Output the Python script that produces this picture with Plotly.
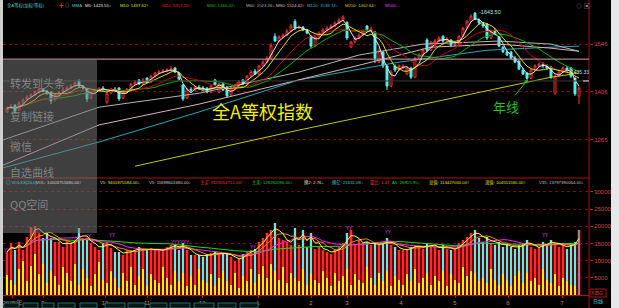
import plotly.graph_objects as go
import pandas as pd

W, H = 619, 308
CJK = "Noto Sans CJK SC"
SANS = "Liberation Sans, Noto Sans CJK SC"

# ---------------- data ----------------
opens = [1347,1358,1367,1353,1373,1382,1391,1397,1405,1414,
         1408,1405,1382,1397,1405,1411,1417,1423,1438,1423,
         1414,1388,1405,1411,1417,1376,1402,1414,1417,1388,
         1408,1414,1429,1441,1429,1446,1435,1452,1461,1464,
         1467,1470,1476,1461,1426,1388,1414,1411,1420,1417,
         1417,1405,1441,1405,1429,1420,1397,1417,1426,1441,
         1429,1452,1467,1458,1482,1493,1505,1569,1555,1567,
         1572,1584,1613,1593,1596,1587,1569,1540,1567,1578,
         1587,1593,1599,1608,1616,1610,1537,1552,1564,1572,
         1599,1587,1581,1493,1523,1482,1423,1482,1470,1476,
         1458,1476,1449,1505,1514,1558,1528,1546,1555,1569,
         1555,1558,1543,1546,1569,1593,1613,1637,1616,1605,
         1605,1564,1587,1567,1537,1523,1523,1505,1496,1470,
         1461,1446,1470,1482,1487,1482,1479,1402,1452,1464,
         1476,1476,1446,1394]
highs = [1364,1370,1370,1379,1388,1397,1402,1411,1423,1417,
         1411,1408,1400,1408,1417,1423,1429,1438,1443,1426,
         1417,1408,1414,1420,1423,1408,1417,1420,1420,1411,
         1417,1432,1441,1443,1446,1449,1455,1464,1470,1473,
         1476,1482,1479,1464,1429,1417,1420,1423,1426,1423,
         1420,1426,1443,1432,1432,1423,1423,1429,1441,1443,
         1455,1470,1473,1484,1499,1511,1549,1578,1572,1578,
         1590,1605,1619,1602,1599,1590,1572,1569,1584,1593,
         1599,1605,1613,1622,1631,1613,1555,1569,1578,1590,
         1602,1596,1584,1534,1526,1484,1470,1487,1487,1487,
         1479,1479,1508,1520,1534,1564,1555,1561,1569,1572,
         1567,1561,1552,1572,1596,1616,1634,1640,1622,1610,
         1608,1590,1593,1569,1540,1528,1526,1511,1499,1476,
         1464,1473,1487,1493,1493,1487,1482,1458,1470,1482,
         1482,1479,1449,1423]
lows = [1344,1356,1344,1350,1370,1379,1388,1394,1402,1405,
        1397,1370,1379,1394,1402,1408,1414,1420,1420,1411,
        1376,1385,1402,1408,1408,1370,1400,1405,1379,1385,
        1405,1411,1426,1426,1426,1432,1432,1449,1458,1461,
        1464,1467,1461,1441,1379,1385,1405,1408,1411,1411,
        1402,1402,1423,1402,1408,1388,1394,1414,1423,1426,
        1426,1449,1455,1455,1479,1490,1502,1552,1552,1564,
        1569,1581,1587,1590,1584,1575,1534,1537,1564,1575,
        1584,1590,1596,1605,1613,1558,1534,1549,1561,1569,
        1584,1584,1490,1490,1476,1411,1420,1464,1467,1473,
        1455,1443,1446,1502,1511,1523,1526,1543,1552,1549,
        1552,1537,1540,1543,1567,1590,1610,1616,1602,1593,
        1558,1561,1572,1537,1520,1511,1502,1490,1470,1455,
        1441,1443,1467,1479,1476,1470,1443,1397,1449,1461,
        1464,1446,1394,1370]
closes = [1358,1364,1350,1373,1382,1391,1397,1405,1414,1408,
          1402,1379,1397,1405,1411,1417,1423,1432,1423,1417,
          1385,1405,1411,1417,1414,1402,1414,1411,1385,1408,
          1414,1429,1435,1429,1441,1435,1452,1461,1464,1467,
          1470,1473,1464,1443,1385,1414,1411,1420,1417,1414,
          1405,1423,1426,1429,1411,1394,1417,1426,1435,1429,
          1452,1464,1458,1482,1493,1505,1543,1555,1567,1572,
          1584,1599,1593,1596,1587,1578,1540,1567,1578,1587,
          1593,1599,1608,1616,1625,1564,1552,1564,1572,1584,
          1587,1590,1505,1528,1482,1423,1464,1470,1482,1482,
          1476,1449,1505,1514,1528,1528,1552,1555,1564,1555,
          1561,1543,1546,1569,1593,1613,1628,1619,1608,1599,
          1564,1584,1578,1540,1523,1514,1505,1493,1473,1458,
          1446,1470,1482,1487,1482,1476,1449,1452,1464,1476,
          1470,1452,1400,1417]
volumes = [12500,15100,13000,15400,13000,17000,19800,20000,18000,16500,
           18000,16500,15400,15400,14000,15700,15100,16000,19500,16000,
           16000,15100,14000,13000,15100,15400,13700,12500,12500,11600,
           13000,13000,13000,14000,13000,13000,13700,13000,13000,13000,
           14000,14500,14500,13000,15100,13000,11600,11600,11600,11000,
           11800,12200,12500,11800,12200,12000,11000,10000,10500,12000,
           12500,13000,13500,15400,16500,18000,19000,20900,16500,16000,
           15500,14500,19500,14500,18900,14000,18000,13500,14000,13000,
           12500,12000,13500,14000,15000,18000,18900,14500,16000,15000,
           15400,14500,15000,14500,15000,16500,14500,14000,13000,13000,
           13500,14000,14500,14000,13500,15000,14500,14000,13000,14500,
           13500,13000,13500,15000,16000,17000,18000,19000,16500,15500,
           17000,15000,14500,15500,14000,14500,14000,13500,14500,15000,
           16000,14000,13500,14000,15500,14500,16000,15000,14000,14500,
           13500,15000,15500,18900]
yellow_vol = [5800,4500,3000,7500,10000,4000,8500,12000,6000,9000,
              3500,7000,5500,3000,8000,6500,4000,9000,3000,7500,
              5000,2500,6000,9500,4500,3500,7000,5000,2000,6500,
              4000,8000,3000,5500,7500,2500,6000,4500,3500,8000,
              5000,3000,7000,4000,6500,2500,5500,3000,7500,4500,
              3500,6000,2500,5000,7000,4000,3000,6500,2000,5500,
              4000,7500,3500,6000,8500,5000,9000,7000,4500,8000,
              3500,6500,5000,4000,7500,3000,6000,4500,3500,7000,
              5000,2500,6500,4000,5500,7500,3000,6000,4500,3500,
              8000,5000,3000,6500,4000,7000,2500,5500,4500,3000,
              6000,4000,7500,3500,5000,6500,3000,5500,4000,7000,
              2500,6000,4500,3500,8000,5500,7000,6500,4000,5000,
              3500,7500,4500,3000,6000,4500,2500,5500,7000,3500,
              6500,4000,5000,3000,7500,4500,3500,6000,2500,5000,
              4000,3000,2500,0]

# long moving averages (index, value)
ma60_idx = [-1, 23, 48, 73, 88, 104, 123, 136, 143]
ma60_val = [1265, 1361, 1402, 1464, 1514, 1546, 1555, 1546, 1525]
ma90_idx = [-1, 23, 48, 73, 88, 106, 123, 136, 143]
ma90_val = [1191, 1309, 1370, 1441, 1484, 1537, 1546, 1534, 1525]
ma120_idx = [-1, 23, 48, 73, 98, 120, 136, 143]
ma120_val = [1183, 1259, 1347, 1441, 1493, 1528, 1537, 1540]
ma250_idx = [32, 73, 103, 136, 143]
ma250_val = [1188, 1294, 1367, 1449, 1461]

price_ticks = [1265, 1406, 1546]
vol_ticks = [5000, 10000, 15000, 20000, 25000, 30000]
month_pos = [1.3, 9, 24.5, 35, 48.75, 62.75, 76, 85, 98.5, 112, 125.25, 138.75]
month_labels = ["2025年", "9", "10", "11", "12", "1", "2", "3", "4", "5", "6", "7"]

# ---------------- figure ----------------
n = len(closes)
idx = list(range(n))
UP, DOWN = "#ff2a2a", "#50f0f0"

fig = go.Figure()
fig.add_trace(go.Candlestick(
    x=idx, open=opens, high=highs, low=lows, close=closes,
    increasing=dict(line=dict(color=UP, width=1), fillcolor="black"),
    decreasing=dict(line=dict(color=DOWN, width=1), fillcolor=DOWN),
    whiskerwidth=0, xaxis="x", yaxis="y", hoverinfo="skip"))

for ix, val, col in [(ma250_idx, ma250_val, "#c8c800"), (ma120_idx, ma120_val, "#22a8b8"),
                     (ma90_idx, ma90_val, "#d8b2b8"), (ma60_idx, ma60_val, "#b4b4b4")]:
    fig.add_trace(go.Scatter(x=ix, y=val, mode="lines", line=dict(color=col, width=1),
                             xaxis="x", yaxis="y", hoverinfo="skip"))

cs = pd.Series(closes)
for w, col in [(18, "#00b000"), (12, "#c00000"), (6, "#e0e000"), (3, "#e6e6e6")]:
    fig.add_trace(go.Scatter(x=idx, y=cs.rolling(w, min_periods=1).mean(), mode="lines",
                             line=dict(color=col, width=1), xaxis="x", yaxis="y", hoverinfo="skip"))

bar_cols = [UP if c >= o else DOWN for o, c in zip(opens, closes)]
bar_cols[-1] = "#8a8a8a"
fig.add_trace(go.Bar(x=idx, y=volumes, width=1.0, marker=dict(color="#6a0000", line=dict(width=0)),
                     xaxis="x2", yaxis="y2", hoverinfo="skip"))
fig.add_trace(go.Bar(x=idx, y=volumes, width=0.62, marker=dict(color=bar_cols, line=dict(width=0)),
                     xaxis="x2", yaxis="y2", hoverinfo="skip"))
fig.add_trace(go.Bar(x=idx, y=yellow_vol, width=0.62, marker=dict(color="#f0f000", line=dict(width=0)),
                     xaxis="x2", yaxis="y2", hoverinfo="skip"))
vs = pd.Series(volumes)
for w, col in [(36, "#10e010"), (12, "#ff20ff"), (6, "#f08a20"), (3, "#ffff30")]:
    fig.add_trace(go.Scatter(x=idx, y=vs.rolling(w, min_periods=1).mean(), mode="lines",
                             line=dict(color=col, width=1), xaxis="x2", yaxis="y2", hoverinfo="skip"))

XR = [-1, 145.5]
XD = [3 / W, 589 / W]
tickfont = dict(size=6, color="#d04848", family=SANS)
fig.update_layout(
    width=W, height=H, margin=dict(l=0, r=0, t=0, b=0),
    paper_bgcolor="black", plot_bgcolor="black", showlegend=False,
    barmode="overlay", bargap=0,
    xaxis=dict(domain=XD, range=XR, anchor="y", showticklabels=False, showgrid=False,
               zeroline=False, rangeslider=dict(visible=False), fixedrange=True),
    yaxis=dict(domain=[1 - 172 / H, 1 - 10 / H], range=[1171, 1646], side="right",
               tickvals=price_ticks, ticktext=[str(v) for v in price_ticks],
               ticks="outside", ticklen=3, tickcolor="#c02020", tickfont=tickfont,
               showgrid=True, gridcolor="#701010", griddash="dot", gridwidth=1, zeroline=False),
    xaxis2=dict(domain=XD, range=XR, anchor="y2", tickvals=month_pos, ticktext=month_labels,
                tickfont=dict(size=6, color="#c08080", family=SANS), ticks="outside", ticklen=2,
                tickcolor="#b01010", showgrid=False, showline=True, linecolor="#b01010",
                zeroline=False),
    yaxis2=dict(domain=[1 - 295 / H, 1 - 180 / H], range=[0, 33430], side="right",
                tickvals=vol_ticks, ticktext=[str(v) for v in vol_ticks],
                ticks="outside", ticklen=3, tickcolor="#c02020", tickfont=tickfont,
                showgrid=True, gridcolor="#701010", griddash="dot", gridwidth=1, zeroline=False),
)

def X(p):
    return p / W

def Y(p):
    return 1 - p / H

shapes = [
    dict(type="rect", xref="paper", yref="paper", x0=0, x1=X(3), y0=0, y1=1,
         fillcolor="#cfcfcf", line=dict(width=0)),
    dict(type="rect", xref="paper", yref="paper", x0=X(611), x1=1, y0=0, y1=1,
         fillcolor="#e8e8e8", line=dict(width=0)),
    dict(type="line", xref="paper", yref="paper", x0=X(589), x1=X(589), y0=0, y1=1,
         line=dict(color="#b01010", width=1)),
    dict(type="line", xref="paper", yref="paper", x0=X(3), x1=X(589), y0=Y(178), y1=Y(178),
         line=dict(color="#b01010", width=1)),
    dict(type="line", xref="paper", yref="y", x0=X(3), x1=X(589), y0=1502, y1=1502,
         line=dict(color="#d8a0b4", width=1)),
    dict(type="line", xref="paper", yref="y", x0=X(3), x1=X(589), y0=1438, y1=1438,
         line=dict(color="#3a3a3a", width=1)),
    dict(type="line", xref="paper", yref="y", x0=X(583), x1=X(589), y0=1438, y1=1438,
         line=dict(color="#e0e0e0", width=1)),
    dict(type="rect", xref="paper", yref="paper", x0=X(3), x1=X(97), y0=Y(233), y1=Y(59),
         fillcolor="rgba(115,115,115,0.55)", line=dict(width=0), layer="above"),
    dict(type="rect", xref="paper", yref="paper", x0=X(590), x1=X(606), y0=Y(297), y1=Y(289),
         fillcolor="black", line=dict(color="#b01010", width=1)),
]
for a, b in [(4, 19), (23, 38), (42, 54), (58, 75), (80, 97), (105, 125), (128, 145),
             (150, 167), (170, 190), (194, 214), (218, 236), (240, 258)]:
    shapes.append(dict(type="rect", xref="paper", yref="paper", x0=X(a), x1=X(b),
                       y0=Y(308), y1=Y(303), fillcolor="#0c1414",
                       line=dict(color="#1d7070", width=1)))
fig.update_layout(shapes=shapes)

ann = []

def txt(x, y, s, color, size=4.3, family=SANS, anchor="left"):
    ann.append(dict(x=X(x), y=Y(y), xref="paper", yref="paper", text=s, showarrow=False,
                    xanchor=anchor, yanchor="middle",
                    font=dict(size=size, color=color, family=family)))

# price title row
txt(5, 5, "全A等权(加权/等权)", "#50c8c8")
txt(57, 5, "✚", "#ff2020")
txt(63, 5, "◎", "#a0a0a0")
txt(70, 5, "MMA", "#50c8c8")
txt(83, 5, "M5: 1423.55↓", "#e6e6e6")
txt(118, 5, "M10: 1437.62↑", "#e0e000")
txt(160, 5, "M20: 1457.28↓", "#e02020")
txt(205, 5, "M30: 1460.42↓", "#10c010")
txt(244, 5, "M60: 1523.26↓", "#b4b4b4")
txt(274, 5, "M90: 1524.42↓", "#e0b8c0")
txt(305, 5, "M120: 1538.74↓", "#30b8c8")
txt(343, 5, "M250: 1462.64↑", "#d0d000")
txt(383, 5, "M500: -", "#e040e0")
txt(574, 6, "◇ ▣", "#909090", size=6)

# volume title row
txt(4, 183, "◎ VOLXX(20,0)", "#50c8c8")
txt(34, 183, "VOL: 10003751680.00↑", "#d0d0d0")
txt(98, 183, "V5: 9401875584.00↓", "#e0e000")
txt(147, 183, "V5: 11698601680.00↓", "#d0d0d0")
txt(198, 183, "主买: 9119054712.00↑", "#ff3030")
txt(250, 183, "主卖: 128282096.00↓", "#10d010")
txt(302, 183, "换2: 2.76↓", "#e0e0a0")
txt(330, 183, "换亿: 21631.08↓", "#50c8c8")
txt(368, 183, "量比: 1.47", "#ff3030")
txt(390, 183, "A5: 26815.95↓", "#10d010")
txt(427, 183, "总值: 113427000.00↑", "#e0e000")
txt(483, 183, "流值: 104551560.00↑", "#e0e000")
txt(537, 183, "V35: 13797390064.00↓", "#c0c0c0")

# chart labels
txt(262, 111, "全A等权指数", "#f0f000", size=18, family=CJK, anchor="center")
txt(569, 72, "1435.33", "#a8e0e0", size=5)
txt(597, 293, "XIBG", "#e03030", size=5, anchor="center")
txt(598, 301, "日线", "#40c8c8", size=5, anchor="center")
ann.append(dict(x=117.6, y=1641, xref="x", yref="y", text="-1643.50", showarrow=False,
                xanchor="left", yanchor="middle", font=dict(size=5.5, color="#b0e8e8", family=SANS)))
for xi, yv in [(57.5, 1426), (107, 1549)]:
    ann.append(dict(x=xi, y=yv, xref="x", yref="y", text="✚", showarrow=False,
                    font=dict(size=6, color="#ff2020", family=SANS)))
ann.append(dict(x=130.3, y=1443, xref="x", yref="y", ax=-22, ay=27, text="年线",
                showarrow=True, arrowhead=2, arrowsize=0.8, arrowwidth=1, arrowcolor="#20c020",
                font=dict(size=13, color="#20c020", family=CJK)))

for px_, py_ in [(7, 250), (78, 238), (88, 237), (112, 235), (174, 242), (180, 242), (186, 242),
                 (253, 247), (349, 228), (388, 233), (545, 235)]:
    txt(px_, py_, "YY", "#ff40ff", size=4.5, anchor="center")

# share overlay menu
for s, yy in [("转发到头条", 83), ("复制链接", 116), ("微信", 146), ("自选曲线", 172), ("QQ空间", 204)]:
    txt(8, yy, s, "rgba(190,190,190,0.55)", size=11, family=CJK)

fig.update_layout(annotations=ann)
fig.write_html("out.html")
